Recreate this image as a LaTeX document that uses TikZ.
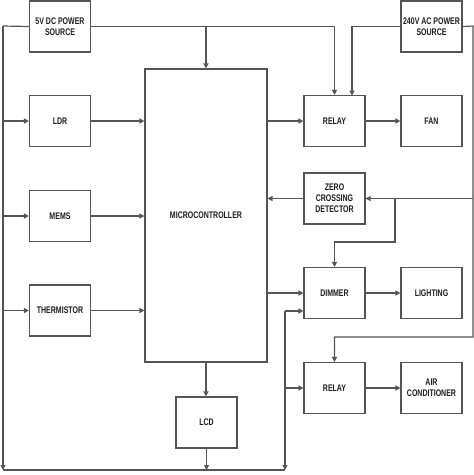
\documentclass[tikz,border=0pt]{standalone}
\usepackage{fontspec}
\newfontfamily\lbl{Liberation Sans Bold}[FakeStretch=0.73]
\usetikzlibrary{arrows.meta}
\definecolor{linec}{RGB}{85,85,85}
\definecolor{textc}{RGB}{30,30,30}
\begin{document}
\begin{tikzpicture}[x=1pt,y=-1pt,
  blk/.style={draw=linec, line width=1.1pt, minimum width=61pt, minimum height=51pt,
    inner sep=0pt, font=\lbl\fontsize{9.6}{11}\selectfont, text=textc, align=center},
  wire/.style={draw=linec, line width=1.2pt},
  arr/.style={wire, -{Triangle[length=5pt,width=5pt]}}]
\useasboundingbox[fill=white] (0,0) rectangle (474,475);
% blocks
\node[blk] (dc) at (60,26.5) {5V DC POWER\\SOURCE};
\node[blk] (ac) at (431.5,26.5) {240V AC POWER\\SOURCE};
\node[blk] (ldr) at (60,121) {LDR};
\node[blk] (mems) at (60,216) {MEMS};
\node[blk] (therm) at (60,310.5) {THERMISTOR};
\node[blk, minimum width=122pt, minimum height=293pt] (mc) at (206,215.5) {MICROCONTROLLER};
\node[blk] (lcd) at (206.5,422.5) {LCD};
\node[blk] (relay1) at (334.5,121) {RELAY};
\node[blk] (fan) at (431.5,121) {FAN};
\node[blk] (zcd) at (334.5,198.5) {ZERO\\CROSSING\\DETECTOR};
\node[blk] (dim) at (334.5,293) {DIMMER};
\node[blk] (light) at (431.5,293) {LIGHTING};
\node[blk] (relay2) at (334.5,388) {RELAY};
\node[blk] (air) at (431.5,388) {AIR\\CONDITIONER};
% junction coordinates
\coordinate (lt) at (3,26);
\coordinate (lb) at (3,470);
\coordinate (bj) at (285,470);
\coordinate (dj) at (285,311);
\coordinate (rt) at (473,26);
\coordinate (rb) at (473,337);
\coordinate (zj) at (395,198.5);
\coordinate (zk) at (395,242);
\coordinate (r1in) at (352,95.5);
% 5V supply
\draw[wire] (dc.west) -- (lt);
\draw[arr] (lt) -- (lb);
\draw[arr] (lt |- ldr) -- (ldr.west);
\draw[arr] (lt |- mems) -- (mems.west);
\draw[arr] (lt |- therm) -- (therm.west);
\draw[arr] (dc.east) -| (relay1.north);
\draw[arr] (dc.east -| mc.north) -- (mc.north);
% sensors to MCU
\draw[arr] (ldr.east) -- (ldr.east -| mc.west);
\draw[arr] (mems.east) -- (mems.east -| mc.west);
\draw[arr] (therm.east) -- (therm.east -| mc.west);
% 240V supply
\draw[arr] (ac.west) -| (r1in);
\draw[arr] (ac.east) -- (rt) -- (rb) -| (relay2.north);
\draw[arr] (rt |- zcd) -- (zcd.east);
\draw[arr] (zj) -- (zk) -| (dim.north);
% MCU outputs
\draw[arr] (zcd.west) -- (zcd.west -| mc.east);
\draw[arr] (relay1.west -| mc.east) -- (relay1.west);
\draw[arr] (dim.west -| mc.east) -- (dim.west);
\draw[arr] (relay1.east) -- (fan.west);
\draw[arr] (dim.east) -- (light.west);
\draw[arr] (relay2.east) -- (air.west);
\draw[arr] (mc.south) -- (mc.south |- lcd.north);
\draw[arr] (lcd.south) -- (lcd.south |- lb);
% bottom rail
\draw[wire] (lb) -- (bj);
\draw[arr] (dj) -- (bj);
\draw[arr] (dj) -- (dj -| dim.west);
\draw[arr] (relay2.west -| dj) -- (relay2.west);
\end{tikzpicture}
\end{document}
